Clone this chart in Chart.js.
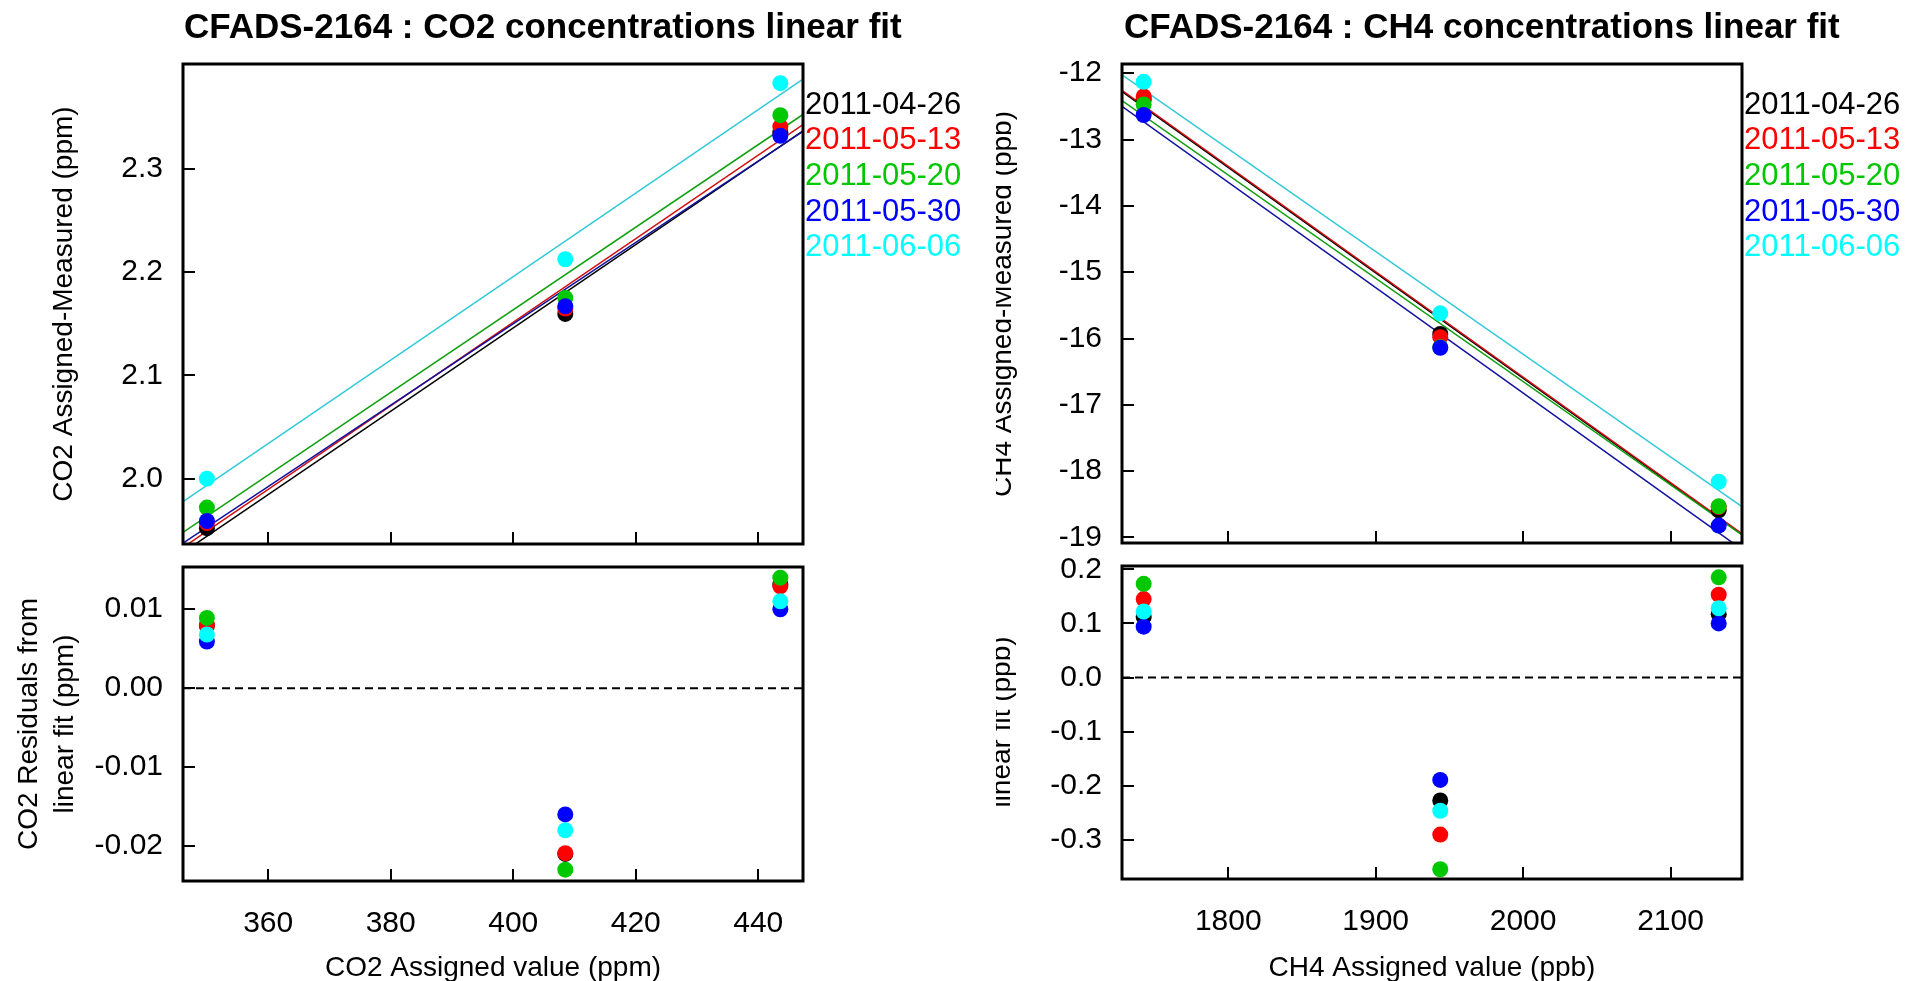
<!DOCTYPE html>
<html><head><meta charset="utf-8">
<script src="https://cdn.jsdelivr.net/npm/chart.js@4.4.1/dist/chart.umd.min.js"></script>
<style>
html,body{margin:0;padding:0;background:#fff;width:1905px;height:981px;overflow:hidden}
canvas{position:absolute;top:0}
</style></head><body>
<canvas id="c1" width="996" height="981" style="left:0px"></canvas>
<canvas id="c2" width="996" height="981" style="left:0px"></canvas>
<canvas id="c3" width="909" height="981" style="left:996px"></canvas>
<canvas id="c4" width="909" height="981" style="left:996px"></canvas>
<script>
// ---------- data ----------
const dates = ['2011-04-26', '2011-05-13', '2011-05-20', '2011-05-30', '2011-06-06'];
const seriesColors = ['#000000', '#ff0000', '#00c800', '#0000ff', '#00ffff'];
const lineColors = ['#000000', '#d01010', '#10a010', '#1010a0', '#30c8d8'];

// CO2
const co2Assigned = [350.0, 408.5, 443.6];
const co2Diff0426 = [1.952, 2.1595, 2.335];
const co2Diff0513 = [1.957, 2.1648, 2.341];
const co2Diff0520 = [1.972, 2.175, 2.352];
const co2Diff0530 = [1.959, 2.167, 2.332];
const co2Diff0606 = [2.000, 2.2125, 2.383];
const co2Res0426 = [0.0079, -0.0210, 0.0131];
const co2Res0513 = [0.0080, -0.0209, 0.0129];
const co2Res0520 = [0.0089, -0.0230, 0.0140];
const co2Res0530 = [0.0059, -0.0160, 0.0100];
const co2Res0606 = [0.0068, -0.0180, 0.0110];

// CH4
const ch4Assigned = [1742.6, 1943.8, 2132.7];
const ch4Diff0426 = [-12.40, -15.93, -18.59];
const ch4Diff0513 = [-12.35, -15.98, -18.54];
const ch4Diff0520 = [-12.47, -16.13, -18.53];
const ch4Diff0530 = [-12.63, -16.14, -18.82];
const ch4Diff0606 = [-12.13, -15.62, -18.16];
const ch4Res0426 = [0.112, -0.227, 0.117];
const ch4Res0513 = [0.145, -0.290, 0.153];
const ch4Res0520 = [0.173, -0.354, 0.185];
const ch4Res0530 = [0.094, -0.189, 0.100];
const ch4Res0606 = [0.122, -0.246, 0.128];

// axis ranges and tick labels
const co2XRange = [346.1, 447.3];
const co2YRange = [1.9367, 2.4016];
const co2ResRange = [-0.02443, 0.01535];
const co2XTicks = [360, 380, 400, 420, 440];
const co2YTicks = [2.0, 2.1, 2.2, 2.3];
const co2ResTicks = [-0.02, -0.01, 0.0, 0.01];

const ch4XRange = [1727.9, 2148.5];
const ch4YRange = [-19.083, -11.861];
const ch4ResRange = [-0.372, 0.206];
const ch4XTicks = [1800, 1900, 2000, 2100];
const ch4YTicks = [-19, -18, -17, -16, -15, -14, -13, -12];
const ch4ResTicks = [-0.3, -0.2, -0.1, 0.0, 0.1, 0.2];

// ---------- helpers ----------
const FONT = '"Liberation Sans", Arial, Helvetica, sans-serif';

function linFit(xs, ys) {
  const n = xs.length;
  const mx = xs.reduce((a, b) => a + b, 0) / n;
  const my = ys.reduce((a, b) => a + b, 0) / n;
  let sxy = 0, sxx = 0;
  for (let i = 0; i < n; i++) { sxy += (xs[i] - mx) * (ys[i] - my); sxx += (xs[i] - mx) * (xs[i] - mx); }
  const b = sxy / sxx;
  return { a: my - b * mx, b };
}

function buildDatasets(xs, seriesList, withFit, xr, withZero) {
  const ds = [];
  seriesList.forEach((ys, i) => {
    ds.push({
      label: dates[i],
      data: xs.map((x, j) => ({ x: x, y: ys[j] })),
      backgroundColor: seriesColors[i],
      borderColor: seriesColors[i],
      borderWidth: 0,
      pointRadius: 8,
      pointHoverRadius: 8,
      showLine: false,
      order: 5 - i
    });
    if (withFit) {
      const f = linFit(xs, ys);
      ds.push({
        label: dates[i] + ' fit',
        data: [{ x: xr[0], y: f.a + f.b * xr[0] }, { x: xr[1], y: f.a + f.b * xr[1] }],
        borderColor: lineColors[i],
        borderWidth: 1.5,
        pointRadius: 0,
        showLine: true,
        fill: false,
        order: 20 - i
      });
    }
  });
  if (withZero) {
    ds.push({
      label: 'zero',
      data: [{ x: xr[0], y: 0 }, { x: xr[1], y: 0 }],
      borderColor: '#000',
      borderWidth: 2,
      borderDash: [8, 5],
      pointRadius: 0,
      showLine: true,
      fill: false,
      order: 30
    });
  }
  return ds;
}

function makeScales(xr, yr, xTicks, yTicks, yDec, showXLabels) {
  return {
    x: {
      type: 'linear', min: xr[0], max: xr[1],
      afterBuildTicks: s => { s.ticks = xTicks.map(v => ({ value: v })); },
      afterFit: s => { s.height = showXLabels ? 90 : 0; },
      grid: { display: false, drawTicks: false },
      border: { display: false },
      ticks: { display: showXLabels, autoSkip: false, maxRotation: 0, color: '#000', padding: 25,
               font: { family: FONT, size: 30 }, callback: v => String(v) }
    },
    y: {
      type: 'linear', min: yr[0], max: yr[1],
      afterBuildTicks: s => { s.ticks = yTicks.map(v => ({ value: v })); },
      afterFit: s => { s.width = 120; },
      grid: { display: false, drawTicks: false },
      border: { display: false },
      ticks: { autoSkip: false, color: '#000', padding: 20,
               font: { family: FONT, size: 30 }, callback: v => Number(v).toFixed(yDec) }
    }
  };
}

const decor = {
  id: 'decor',
  afterDatasetsDraw(chart, args, o) {
    const ctx = chart.ctx, ca = chart.chartArea;
    const xs = chart.scales.x, ys = chart.scales.y;
    ctx.save();
    ctx.strokeStyle = '#000';
    ctx.lineWidth = 2;
    ctx.setLineDash([]);
    xs.ticks.forEach(t => {
      const p = Math.round(xs.getPixelForValue(t.value));
      ctx.beginPath(); ctx.moveTo(p, ca.bottom); ctx.lineTo(p, ca.bottom - 12); ctx.stroke();
    });
    ys.ticks.forEach(t => {
      const p = Math.round(ys.getPixelForValue(t.value));
      ctx.beginPath(); ctx.moveTo(ca.left, p); ctx.lineTo(ca.left + 12, p); ctx.stroke();
    });
    ctx.lineWidth = 3;
    ctx.strokeRect(ca.left, ca.top, ca.right - ca.left, ca.bottom - ca.top);
    ctx.restore();
  },
  afterDraw(chart, args, o) {
    const ctx = chart.ctx;
    ctx.save();
    ctx.fillStyle = '#000';
    if (o.title) {
      ctx.font = 'bold 35px ' + FONT;
      ctx.textAlign = 'left'; ctx.textBaseline = 'middle';
      ctx.fillText(o.title, o.titleX, o.titleY);
    }
    if (o.yTitles) {
      ctx.font = '28px ' + FONT;
      o.yTitles.forEach(t => {
        ctx.save();
        ctx.translate(t.x, o.yTitleY);
        ctx.rotate(-Math.PI / 2);
        ctx.textAlign = 'center'; ctx.textBaseline = 'middle';
        ctx.fillText(t.text, 0, 0);
        ctx.restore();
      });
    }
    if (o.xTitle) {
      ctx.font = '28px ' + FONT;
      ctx.textAlign = 'center'; ctx.textBaseline = 'middle';
      ctx.fillText(o.xTitle, o.xTitleX, o.xTitleY);
    }
    if (o.legend) {
      ctx.font = '31px ' + FONT;
      ctx.textAlign = 'left'; ctx.textBaseline = 'middle';
      dates.forEach((d, i) => {
        ctx.fillStyle = seriesColors[i];
        ctx.fillText(d, o.legendX, o.legendY + i * o.legendDy);
      });
    }
    ctx.restore();
  }
};

function makeChart(id, datasets, scales, padding, decorOpts) {
  return new Chart(document.getElementById(id), {
    type: 'scatter',
    data: { datasets },
    options: {
      responsive: false,
      animation: false,
      devicePixelRatio: 1,
      layout: { padding },
      scales,
      plugins: { legend: { display: false }, tooltip: { enabled: false }, title: { display: false }, decor: decorOpts }
    },
    plugins: [decor]
  });
}

// ---------- CO2 upper ----------
makeChart('c1',
  buildDatasets(co2Assigned, [co2Diff0426, co2Diff0513, co2Diff0520, co2Diff0530, co2Diff0606], true, co2XRange, false),
  makeScales(co2XRange, co2YRange, co2XTicks, co2YTicks, 1, false),
  { left: 63, right: 193, top: 64, bottom: 437 },
  { title: 'CFADS-2164 : CO2 concentrations linear fit', titleX: 184, titleY: 28,
    yTitles: [{ text: 'CO2 Assigned-Measured (ppm)', x: 64 }], yTitleY: 304,
    legend: true, legendX: 805, legendY: 105, legendDy: 35.7 });

// ---------- CO2 residuals ----------
makeChart('c2',
  buildDatasets(co2Assigned, [co2Res0426, co2Res0513, co2Res0520, co2Res0530, co2Res0606], false, co2XRange, true),
  makeScales(co2XRange, co2ResRange, co2XTicks, co2ResTicks, 2, true),
  { left: 63, right: 193, top: 567, bottom: 10 },
  { yTitles: [{ text: 'CO2 Residuals from', x: 29 }, { text: 'linear fit (ppm)', x: 65 }], yTitleY: 724,
    xTitle: 'CO2 Assigned value (ppm)', xTitleX: 493, xTitleY: 968 });

// ---------- CH4 upper ----------
makeChart('c3',
  buildDatasets(ch4Assigned, [ch4Diff0426, ch4Diff0513, ch4Diff0520, ch4Diff0530, ch4Diff0606], true, ch4XRange, false),
  makeScales(ch4XRange, ch4YRange, ch4XTicks, ch4YTicks, 0, false),
  { left: 6, right: 163, top: 64, bottom: 438 },
  { title: 'CFADS-2164 : CH4 concentrations linear fit', titleX: 128, titleY: 28,
    yTitles: [{ text: 'CH4 Assigned-Measured (ppb)', x: 7 }], yTitleY: 304,
    legend: true, legendX: 748, legendY: 105, legendDy: 35.7 });

// ---------- CH4 residuals ----------
makeChart('c4',
  buildDatasets(ch4Assigned, [ch4Res0426, ch4Res0513, ch4Res0520, ch4Res0530, ch4Res0606], false, ch4XRange, true),
  makeScales(ch4XRange, ch4ResRange, ch4XTicks, ch4ResTicks, 1, true),
  { left: 6, right: 163, top: 566, bottom: 12 },
  { yTitles: [{ text: 'CH4 Residuals from', x: -28 }, { text: 'linear fit (ppb)', x: 6 }], yTitleY: 722,
    xTitle: 'CH4 Assigned value (ppb)', xTitleX: 436, xTitleY: 968 });
</script>
</body></html>
